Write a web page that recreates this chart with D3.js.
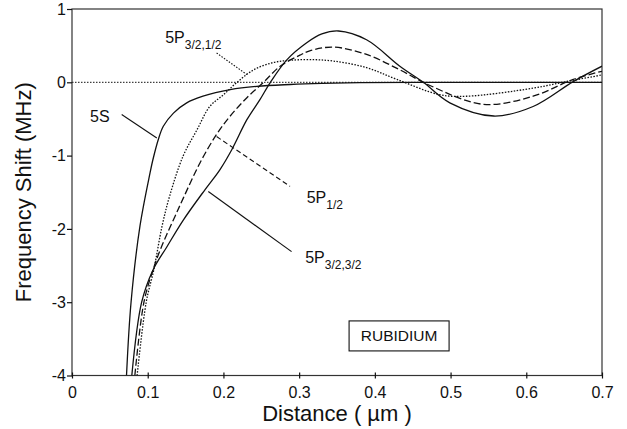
<!DOCTYPE html>
<html>
<head>
<meta charset="utf-8">
<script src="https://cdn.jsdelivr.net/npm/d3@7"></script>
<style>
  html, body { margin: 0; padding: 0; background: #fff; }
  svg { display: block; font-family: "Liberation Sans", Arial, Helvetica, sans-serif; }
</style>
</head>
<body>
<svg id="chart" width="627" height="429"></svg>
<script>
// Distance from the surface (µm) and frequency shift (MHz) for each level
const distance5S = [0.072, 0.078, 0.0898, 0.103, 0.107, 0.114, 0.1206, 0.134, 0.1515, 0.173, 0.209, 0.244, 0.288, 0.33, 0.38, 0.45, 0.55, 0.65, 0.70];
const shift5S    = [-4, -3, -1.96, -1.24, -1.05, -0.78, -0.60, -0.42, -0.28, -0.19, -0.10, -0.055, -0.03, -0.015, -0.005, 0, 0, 0, 0];

const distanceP33 = [0.079, 0.092, 0.107, 0.125, 0.147, 0.176, 0.1955, 0.211, 0.231, 0.248, 0.262, 0.284, 0.310, 0.330, 0.352, 0.389, 0.433, 0.464, 0.499, 0.557, 0.609, 0.662, 0.70];
const shiftP33    = [-4, -3, -2.56, -2.25, -1.88, -1.46, -1.19, -0.92, -0.51, -0.24, 0, 0.31, 0.54, 0.66, 0.70, 0.58, 0.22, 0, -0.28, -0.46, -0.33, 0.01, 0.22];

const distanceP12 = [0.083, 0.095, 0.107, 0.116, 0.125, 0.136, 0.147, 0.169, 0.191, 0.209, 0.231, 0.253, 0.275, 0.301, 0.314, 0.345, 0.389, 0.433, 0.472, 0.543, 0.609, 0.662, 0.70];
const shiftP12    = [-4, -3, -2.56, -2.30, -2.08, -1.83, -1.58, -1.10, -0.71, -0.46, -0.21, 0, 0.22, 0.37, 0.43, 0.48, 0.38, 0.17, -0.04, -0.30, -0.19, 0.04, 0.15];

const distanceP31 = [0.086, 0.098, 0.108, 0.119, 0.129, 0.147, 0.165, 0.182, 0.200, 0.218, 0.240, 0.266, 0.288, 0.314, 0.345, 0.389, 0.429, 0.486, 0.521, 0.609, 0.653, 0.70];
const shiftP31    = [-4, -3, -2.56, -1.96, -1.55, -1.00, -0.65, -0.33, -0.17, 0, 0.17, 0.27, 0.30, 0.31, 0.29, 0.20, 0.04, -0.17, -0.19, -0.08, 0.01, 0.10];

const xTicks = [0, 0.1, 0.2, 0.3, 0.4, 0.5, 0.6, 0.7];
const yTicks = [1, 0, -1, -2, -3, -4];
const xTickLabels = ["0", "0.1", "0.2", "0.3", "0.4", "0.5", "0.6", "0.7"];
const yTickLabels = ["1", "0", "-1", "-2", "-3", "-4"];

const svg = d3.select("#chart");
const plotLeft = 72, plotRight = 602, plotTop = 9, plotBottom = 375.5;
const ink = "#111";

const x = d3.scaleLinear().domain([0, 0.7]).range([plotLeft, plotRight]);
const y = d3.scaleLinear().domain([-4, 1]).range([plotBottom, plotTop]);

svg.append("rect").attr("width", 627).attr("height", 429).attr("fill", "#fff");

svg.append("defs").append("clipPath").attr("id", "plot")
  .append("rect").attr("x", plotLeft).attr("y", plotTop)
  .attr("width", plotRight - plotLeft).attr("height", plotBottom - plotTop);

// zero reference line
svg.append("line")
  .attr("x1", x(0)).attr("x2", x(0.7)).attr("y1", y(0)).attr("y2", y(0))
  .attr("stroke", ink).attr("stroke-width", 1).attr("stroke-dasharray", "1.5,1.5");

// frame
svg.append("rect")
  .attr("x", plotLeft).attr("y", plotTop)
  .attr("width", plotRight - plotLeft).attr("height", plotBottom - plotTop)
  .attr("fill", "none").attr("stroke", "#333").attr("stroke-width", 1.2);

// axes
const xAxis = d3.axisBottom(x).tickValues(xTicks).tickSizeInner(3).tickSizeOuter(0)
  .tickPadding(8).tickFormat((d, i) => xTickLabels[i]);
const gx = svg.append("g").attr("transform", `translate(0,${plotBottom})`).call(xAxis);
gx.select(".domain").remove();
gx.selectAll(".tick line").attr("y1", -3).attr("stroke", ink).attr("stroke-width", 1.2);
gx.selectAll(".tick text").attr("font-size", 16).attr("fill", ink).attr("font-family", "Liberation Sans, Arial, sans-serif");

const yAxis = d3.axisLeft(y).tickValues(yTicks).tickSizeInner(5).tickSizeOuter(0)
  .tickPadding(1).tickFormat((d, i) => yTickLabels[i]);
const gy = svg.append("g").attr("transform", `translate(${plotLeft},0)`).call(yAxis);
gy.select(".domain").remove();
gy.selectAll(".tick line").attr("stroke", ink).attr("stroke-width", 1.2);
gy.selectAll(".tick text").attr("font-size", 16).attr("fill", ink).attr("font-family", "Liberation Sans, Arial, sans-serif");

// axis titles
svg.append("text")
  .attr("x", (plotLeft + plotRight) / 2).attr("y", 421)
  .attr("text-anchor", "middle").attr("font-size", 22).attr("fill", ink)
  .text("Distance ( µm )");
svg.append("text")
  .attr("transform", `translate(31,${(plotTop + plotBottom) / 2}) rotate(-90)`)
  .attr("text-anchor", "middle").attr("font-size", 22).attr("fill", ink)
  .text("Frequency Shift (MHz)");

// curves
const line = d3.line().x(d => x(d[0])).y(d => y(d[1])).curve(d3.curveCatmullRom.alpha(0.5));
const series = [
  { xs: distance5S, ys: shift5S, dash: null },
  { xs: distanceP33, ys: shiftP33, dash: null },
  { xs: distanceP12, ys: shiftP12, dash: "7,3" },
  { xs: distanceP31, ys: shiftP31, dash: "1.5,1.5" }
];
const gc = svg.append("g").attr("clip-path", "url(#plot)");
series.forEach(s => {
  gc.append("path")
    .datum(d3.zip(s.xs, s.ys))
    .attr("d", line)
    .attr("fill", "none")
    .attr("stroke", ink)
    .attr("stroke-width", 1.3)
    .attr("stroke-dasharray", s.dash);
});

// leader lines and labels
const leaders = [
  { from: [0.0656, -0.44], to: [0.112, -0.76], dash: null },
  { from: [0.191, 0.40], to: [0.231, 0.105], dash: "1.5,1.5" },
  { from: [0.191, -0.74], to: [0.288, -1.42], dash: "5,3" },
  { from: [0.180, -1.49], to: [0.290, -2.31], dash: null }
];
leaders.forEach(l => {
  svg.append("line")
    .attr("x1", x(l.from[0])).attr("y1", y(l.from[1]))
    .attr("x2", x(l.to[0])).attr("y2", y(l.to[1]))
    .attr("stroke", ink).attr("stroke-width", 1.1)
    .attr("stroke-dasharray", l.dash);
});

const labels = [
  { at: [0.0238, -0.54], main: "5S", sub: "" },
  { at: [0.123, 0.54], main: "5P", sub: "3/2,1/2" },
  { at: [0.31, -1.64], main: "5P", sub: "1/2" },
  { at: [0.308, -2.46], main: "5P", sub: "3/2,3/2" }
];
labels.forEach(l => {
  const t = svg.append("text")
    .attr("x", x(l.at[0])).attr("y", y(l.at[1]))
    .attr("font-size", 16).attr("fill", ink);
  t.append("tspan").text(l.main);
  if (l.sub) t.append("tspan").attr("dy", 6).attr("font-size", 12).text(l.sub);
});

// element tag
const tagX = x(0.432), tagY = y(-3.46);
svg.append("rect")
  .attr("x", tagX - 50).attr("y", tagY - 15).attr("width", 100).attr("height", 30)
  .attr("fill", "#fff").attr("stroke", ink).attr("stroke-width", 1.1);
svg.append("text")
  .attr("x", tagX).attr("y", tagY + 5.5)
  .attr("text-anchor", "middle").attr("font-size", 15.5).attr("fill", ink)
  .text("RUBIDIUM");
</script>
</body>
</html>
